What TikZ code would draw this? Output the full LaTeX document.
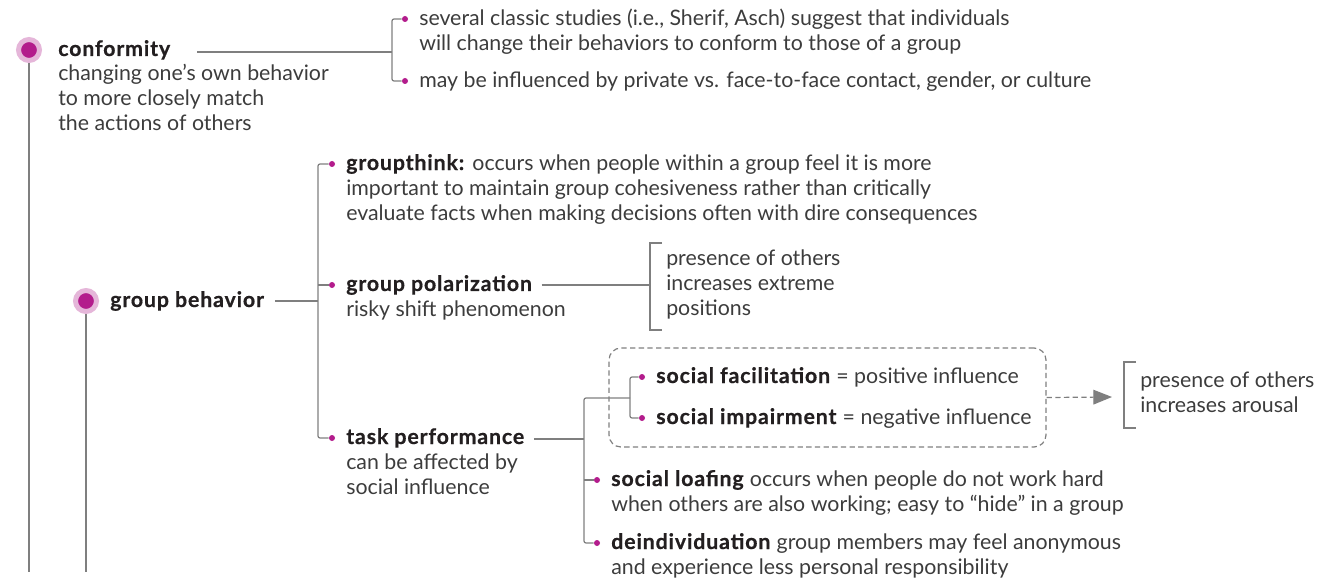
\documentclass[tikz,border=0pt]{standalone}
\usepackage{fontspec}
\setmainfont{Lato}[BoldFeatures={LetterSpace=4, FakeBold=0.6}]
\usetikzlibrary{positioning, fit, arrows.meta}

\definecolor{dotmag}{HTML}{B31C8C}
\definecolor{dotring}{HTML}{E5B6D9}
\definecolor{linegray}{HTML}{7F7F7F}
\definecolor{txtgray}{HTML}{3C3C3C}
\definecolor{headblk}{HTML}{231F20}

\newcommand{\diagfont}{\fontsize{16pt}{18.75pt}\selectfont}
\newcommand{\hd}[1]{\textcolor{headblk}{\textbf{#1}}}

\begin{document}
\begin{tikzpicture}[
        x=0.75pt, y=-0.75pt,
        conn/.style={draw=linegray, line width=0.9pt},
        mainline/.style={draw=linegray, line width=1.2pt},
        bigdot/.style={circle, fill=dotmag, draw=dotring, line width=3.75pt,
                       minimum size=15.75pt, inner sep=0pt},
        smalldot/.style={circle, fill=dotmag, minimum size=4.5pt, inner sep=0pt},
        head/.style={anchor=base west, inner sep=0pt, font=\diagfont\bfseries,
                     text=headblk},
        desc/.style={anchor=base west, inner sep=0pt, align=left,
                     font=\diagfont, text=txtgray},
        dashbox/.style={draw=linegray, line width=0.9pt,
                        dash pattern=on 4pt off 2.5pt, rounded corners=9pt,
                        inner sep=0pt},
        darrow/.style={draw=linegray, line width=0.9pt,
                       dash pattern=on 4pt off 2.5pt,
                       -{Triangle[length=14pt, width=11pt, fill=linegray]}}
    ]
    \useasboundingbox (0,0) rectangle (1332,581);

    %% conformity (multi-line nodes sit on their last baseline)
    \coordinate (bot1) at (29,572);
    \draw[mainline] (29,50) -- (bot1);
    \node[bigdot] (confdot) at (29,50) {};
    \node[head] (conf) at (58,56) {conformity};
    \node[desc] (confdesc) at (58,131)
          {changing one’s own behavior\\to more closely match\\the actions of others};

    \coordinate (cj) at (392,52);
    \node[smalldot] (aschdot) at (405,19) {};
    \node[desc] (asch) at (419,51)
          {several classic studies (i.e., Sherif, Asch) suggest that individuals\\
           will change their behaviors to conform to those of a group};
    \node[smalldot] (infdot) at (405,81) {};
    \node[desc] (infl) at (419,88)
          {may be influenced by private vs. face-to-face contact, gender, or culture};
    \draw[conn] ([xshift=20pt]conf.east |- cj) -- (cj);
    \draw[conn, rounded corners=1.5pt] (aschdot.west) -| (cj) |- (infdot.west);

    %% group behavior
    \coordinate (bot2) at (86,572);
    \draw[mainline] (86,301) -- (bot2);
    \node[bigdot] (gbdot) at (86,301) {};
    \node[head] (gb) at (110,307) {group behavior};
    \coordinate (gj) at (318,301);
    \draw[conn] ([xshift=8pt]gb.east |- gj) -- (gj);

    \node[smalldot] (gtdot) at (332,164) {};
    \node[desc] (gt) at (346,220)
          {\hd{groupthink:} occurs when people within a group feel it is more\\
           important to maintain group cohesiveness rather than critically\\
           evaluate facts when making decisions often with dire consequences};
    \node[smalldot] (gpdot) at (332,285) {};
    \node[head] (gp) at (346,291) {group polarization};
    \node[desc] (gpdesc) at (346,316) {risky shift phenomenon};
    \node[smalldot] (tpdot) at (332,438) {};
    \node[head] (tp) at (346,444) {task performance};
    \node[desc] (tpdesc) at (346,494) {can be affected by\\social influence};
    \draw[conn, rounded corners=1.5pt] (gtdot.west) -| (gj) |- (tpdot.west);
    \draw[conn] (gj |- gpdot) -- (gpdot.west);

    %% polarization bracket
    \coordinate (pj) at (650,285);
    \coordinate (pbt) at (650,243);
    \coordinate (pbb) at (650,330);
    \draw[conn] ([xshift=7pt]gp.east |- pj) -- (pj);
    \draw[conn] ([xshift=9pt]pbt) -- (pbt) -- (pbb) -- ([xshift=9pt]pbb);
    \node[desc] (pext) at (666,315)
          {presence of others\\increases extreme\\positions};

    %% task performance
    \coordinate (tj) at (584,439);
    \coordinate (fj) at (630,398);
    \draw[conn] ([xshift=7pt]tp.east |- tj) -- (tj);
    \node[smalldot] (sfdot) at (642,377) {};
    \node[desc] (sf) at (656,383) {\hd{social facilitation} = positive influence};
    \node[smalldot] (sidot) at (642,418) {};
    \node[desc] (si) at (656,424) {\hd{social impairment} = negative influence};
    \draw[conn, rounded corners=1.5pt] (sfdot.west) -| (fj) |- (sidot.west);

    \node[smalldot] (sldot) at (597,480) {};
    \node[desc] (sl) at (611,511)
          {\hd{social loafing} occurs when people do not work hard\\
           when others are also working; easy to “hide” in a group};
    \node[smalldot] (dedot) at (597,543) {};
    \node[desc] (de) at (611,574)
          {\hd{deindividuation} group members may feel anonymous\\
           and experience less personal responsibility};
    \draw[conn, rounded corners=1.5pt] (fj) -| (tj) |- (dedot.west);
    \draw[conn] (tj |- sldot) -- (sldot.west);

    %% dashed box and arousal
    \coordinate (bnw) at (609,348);
    \coordinate (bse) at (1046,447);
    \node[dashbox, fit=(bnw)(bse)] (sbox) {};
    \coordinate (aend) at (1112,397);
    \draw[darrow] (sbox.east) -- (aend);
    \coordinate (abt) at (1124,362);
    \coordinate (abb) at (1124,428);
    \draw[conn] ([xshift=9pt]abt) -- (abt) -- (abb) -- ([xshift=9pt]abb);
    \node[desc] (aext) at (1140,412) {presence of others\\increases arousal};

\end{tikzpicture}
\end{document}
